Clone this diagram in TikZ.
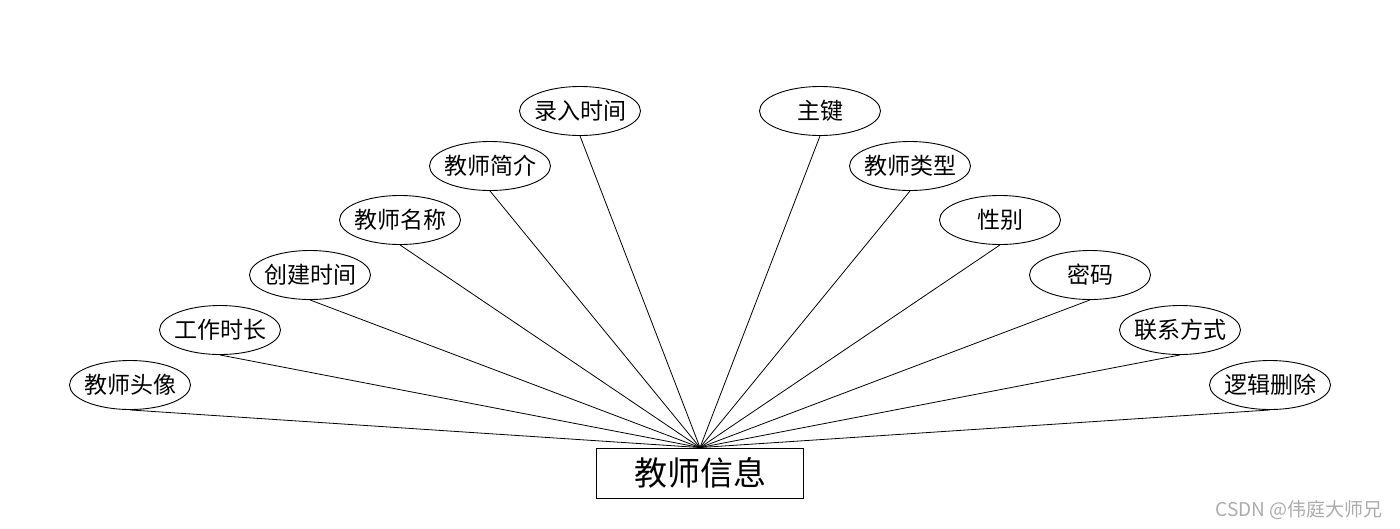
\documentclass[tikz,border=0pt]{standalone}
\usepackage{fontspec}
\setmainfont{Noto Sans CJK SC}
\usetikzlibrary{shapes.geometric}

\begin{document}
\begin{tikzpicture}[x=1pt,y=-1pt,
  attr/.style={ellipse,draw,line width=0.9pt,minimum width=121pt,minimum height=49pt,inner xsep=-5pt,inner ysep=0pt,font=\fontsize{23}{26}\selectfont},
  entity/.style={rectangle,draw,line width=0.9pt,minimum width=207pt,minimum height=50pt,inner sep=0pt,font=\fontsize{33}{36}\selectfont},
  link/.style={line width=0.8pt}]
\useasboundingbox (0,0) rectangle (1400,528);
\node[entity] (info) at (700,473) {教师信息};
% attributes, left half then right half
\foreach \x/\y/\txt [count=\i] in {130/385/教师头像, 220/330/工作时长, 310/275/创建时间,
    400/220/教师名称, 490/166/教师简介, 580/111/录入时间,
    820/111/主键, 910/166/教师类型, 1000/220/性别,
    1090/275/密码, 1180/330/联系方式, 1270/385/逻辑删除}
{
  \node[attr] (a\i) at (\x,\y) {\txt};
  \draw[link] (a\i.south) -- (info.north);
}
\node[font=\fontsize{19}{22}\selectfont,text=gray!65] (mark) at (1299,510) {CSDN @伟庭大师兄};
\end{tikzpicture}
\end{document}
